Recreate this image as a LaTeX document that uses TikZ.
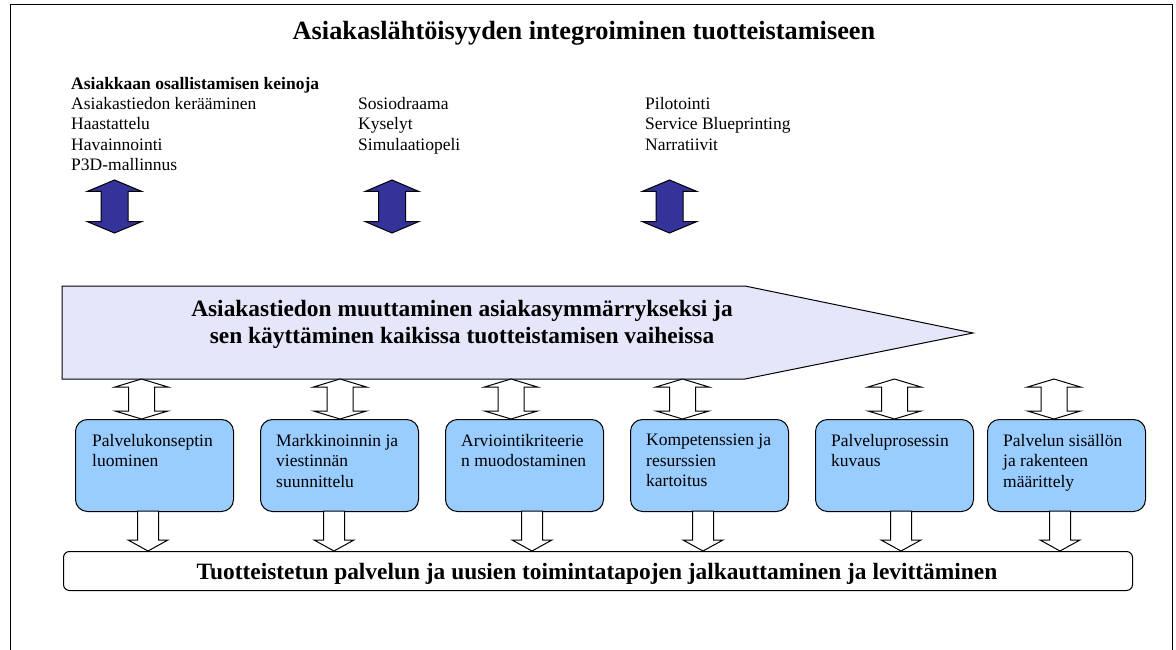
\documentclass[tikz,border=0pt]{standalone}
\usepackage{fontspec}
\setmainfont{Liberation Serif}
\definecolor{stageblue}{HTML}{99CCFF}
\definecolor{flowfill}{HTML}{E6E6FA}
\definecolor{navy}{HTML}{333399}

% vertical double-headed block arrow: style, x, top, bottom, head half-width, shaft half-width, head length
\newcommand\dblblock[7]{%
  \draw[#1] (#2,#3) -- ({#2+#5},{#3+#7}) -- ({#2+#6},{#3+#7}) -- ({#2+#6},{#4-#7})
    -- ({#2+#5},{#4-#7}) -- (#2,#4) -- ({#2-#5},{#4-#7}) -- ({#2-#6},{#4-#7})
    -- ({#2-#6},{#3+#7}) -- ({#2-#5},{#3+#7}) -- cycle;}
% downward block arrow: style, x, top, bottom, head half-width, shaft half-width, head length
\newcommand\dnblock[7]{%
  \draw[#1] ({#2-#6},#3) -- ({#2+#6},#3) -- ({#2+#6},{#4-#7}) -- ({#2+#5},{#4-#7})
    -- (#2,#4) -- ({#2-#5},{#4-#7}) -- ({#2-#6},{#4-#7}) -- cycle;}

\begin{document}
\begin{tikzpicture}[x=1pt,y=-1pt,
  thin line/.style={draw=black,line width=1pt},
  stage/.style={thin line,fill=stageblue,rounded corners=12pt,minimum width=158pt,
    minimum height=92pt,anchor=north west,inner sep=0pt},
  stagetext/.style={anchor=north west,inner sep=0pt,align=left,
    font=\fontsize{17.5}{20.5}\selectfont},
  listtext/.style={anchor=north west,inner sep=0pt,align=left,
    font=\fontsize{17.5}{20.3}\selectfont},
  navyarrow/.style={thin line,fill=navy},
  hollowarrow/.style={thin line,fill=white},
]
\useasboundingbox (0,0) rectangle (1176,650);

% outer frame (open at the bottom)
\draw[thin line] (10,650) -- (10,5) -- (1172,5) -- (1172,650);

% title
\node[anchor=base,inner sep=0pt,font=\fontsize{26.3}{30}\selectfont\bfseries]
  (title) at (584,40) {Asiakaslähtöisyyden integroiminen tuotteistamiseen};

% methods of customer participation
\node[listtext] (col1) at (71,77)
  {\textbf{Asiakkaan osallistamisen keinoja}\\Asiakastiedon kerääminen\\Haastattelu\\Havainnointi\\P3D-mallinnus};
\node[listtext] (col2) at (358,97.3) {Sosiodraama\\Kyselyt\\Simulaatiopeli};
\node[listtext] (col3) at (645,97.3) {Pilotointi\\Service Blueprinting\\Narratiivit};

\dblblock{navyarrow}{114.5}{180}{233}{27.5}{13.5}{11.5}
\dblblock{navyarrow}{392}{180}{233}{27}{13.5}{11.5}
\dblblock{navyarrow}{669.5}{180}{233}{27.5}{13.5}{11.5}

% main flow arrow
\draw[thin line,fill=flowfill] (62,286) -- (745,286) -- (973,333) -- (745,379) -- (62,379) -- cycle;
\node[align=center,inner sep=0pt,font=\fontsize{23.4}{27}\selectfont\bfseries]
  (flow) at (462,324) {Asiakastiedon muuttaminen asiakasymmärrykseksi ja\\sen käyttäminen kaikissa tuotteistamisen vaiheissa};

% stages
\node[stage] (b1) at (75,419) {};
\node[stage] (b2) at (260,419) {};
\node[stage] (b3) at (445,419) {};
\node[stage] (b4) at (630,419) {};
\node[stage] (b5) at (815,419) {};
\node[stage] (b6) at (987,419) {};
\node[stagetext] (t1) at ([shift={(17,15)}]b1.north west) {Palvelukonseptin\\luominen};
\node[stagetext] (t2) at ([shift={(16,15)}]b2.north west) {Markkinoinnin ja\\viestinnän\\suunnittelu};
\node[stagetext] (t3) at ([shift={(16,15)}]b3.north west) {Arviointikriteerie\\n muodostaminen};
\node[stagetext] (t4) at ([shift={(16,15)}]b4.north west) {Kompetenssien ja\\resurssien\\kartoitus};
\node[stagetext] (t5) at ([shift={(16,15)}]b5.north west) {Palveluprosessin\\kuvaus};
\node[stagetext] (t6) at ([shift={(16,15)}]b6.north west) {Palvelun sisällön\\ja rakenteen\\määrittely};

% two-way links between the flow arrow and the stages
\dblblock{hollowarrow}{141.5}{379}{419}{26.5}{13}{8}
\dblblock{hollowarrow}{340}{379}{419}{26.5}{13}{8}
\dblblock{hollowarrow}{511}{379}{419}{26.5}{13}{8}
\dblblock{hollowarrow}{682.5}{379}{419}{26.5}{13}{8}
\dblblock{hollowarrow}{894.5}{379}{419}{26.5}{13}{8}
\dblblock{hollowarrow}{1054}{379}{419}{26.5}{13}{8}

% roll-out bar
\node[thin line,rounded corners=6pt,minimum width=1069pt,minimum height=39pt,
  anchor=north west,inner sep=0pt] (roll) at (63,551) {};
\node[anchor=base,inner sep=0pt,font=\fontsize{23.4}{26}\selectfont\bfseries]
  (rolltext) at (597,579) {Tuotteistetun palvelun ja uusien toimintatapojen jalkauttaminen ja levittäminen};

% stages feed the roll-out
\dnblock{hollowarrow}{148}{511}{551}{20}{10.5}{11}
\dnblock{hollowarrow}{334}{511}{551}{20}{10.5}{11}
\dnblock{hollowarrow}{532}{511}{551}{20}{10.5}{11}
\dnblock{hollowarrow}{703}{511}{551}{20}{10.5}{11}
\dnblock{hollowarrow}{901}{511}{551}{20}{10.5}{11}
\dnblock{hollowarrow}{1060}{511}{551}{20}{10.5}{11}
\end{tikzpicture}
\end{document}
